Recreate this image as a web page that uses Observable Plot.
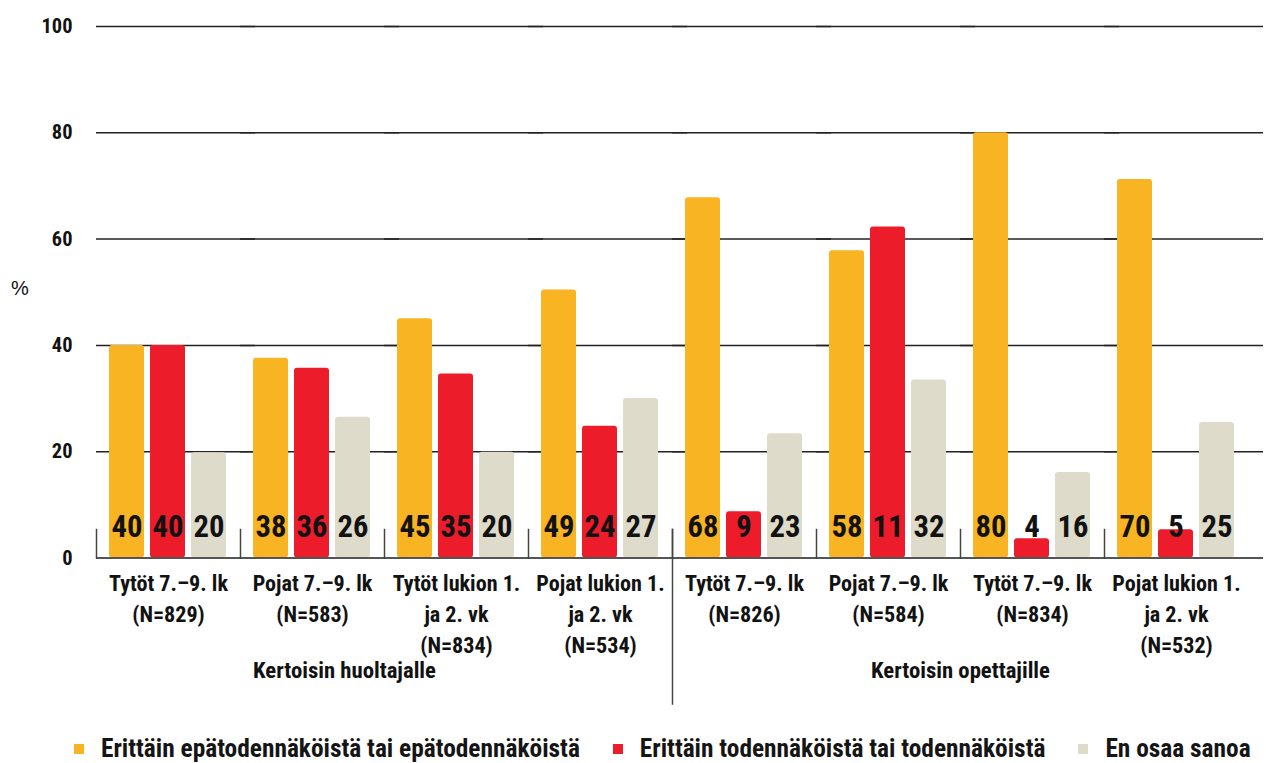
<!DOCTYPE html>
<html><head><meta charset="utf-8">
<script src="https://cdn.jsdelivr.net/npm/d3@7"></script>
<script src="https://cdn.jsdelivr.net/npm/@observablehq/plot@0.6"></script>
<style>
body{margin:0;background:#fff;width:1266px;height:763px;overflow:hidden;position:relative;}
#chart{position:absolute;left:0;top:0}
#pct{position:absolute;left:11px;top:277px;font:20px "Liberation Sans",sans-serif;color:#111}
#legend{position:absolute;left:74px;top:736px;display:flex;align-items:center;font-weight:bold;line-height:25px;color:#151515;white-space:nowrap}
.sw{width:10px;height:10px;margin-right:17px;display:inline-block}
.it{display:flex;align-items:center;margin-right:33px}
</style></head><body>
<div id="chart"></div><div id="pct">%</div><div id="legend"></div>
<script>
// ---- data ----
const categories = [
  "Tytöt 7.–9. lk\n(N=829)",
  "Pojat 7.–9. lk\n(N=583)",
  "Tytöt lukion 1.\nja 2. vk\n(N=834)",
  "Pojat lukion 1.\nja 2. vk\n(N=534)",
  "Tytöt 7.–9. lk\n(N=826)",
  "Pojat 7.–9. lk\n(N=584)",
  "Tytöt 7.–9. lk\n(N=834)",
  "Pojat lukion 1.\nja 2. vk\n(N=532)"
];
const sectionLabels = ["Kertoisin huoltajalle", "Kertoisin opettajille"];
const series = [
  "Erittäin epätodennäköistä tai epätodennäköistä",
  "Erittäin todennäköistä tai todennäköistä",
  "En osaa sanoa"
];
const colors = ["#F9B424", "#EC1C2B", "#DEDBCA"];
// bar heights as drawn
const unlikely = [40, 37.6, 45, 50.4, 67.8, 57.8, 80, 71.2];
const likely   = [40, 35.7, 34.6, 24.8, 8.7, 62.3, 3.6, 5.3];
const dontKnow = [19.8, 26.5, 19.9, 30, 23.4, 33.5, 16.1, 25.5];
// printed value labels
const unlikelyLabels = [40, 38, 45, 49, 68, 58, 80, 70];
const likelyLabels   = [40, 36, 35, 24, 9, 11, 4, 5];
const dontKnowLabels = [20, 26, 20, 27, 23, 32, 16, 25];
const yTicks = [0, 20, 40, 60, 80, 100];

// ---- build tidy rows ----
const valueSets = [unlikely, likely, dontKnow];
const labelSets = [unlikelyLabels, likelyLabels, dontKnowLabels];
const rows = [];
categories.forEach((c, i) => {
  series.forEach((s, j) => rows.push({category: c, series: s, value: valueSets[j][i], label: labelSets[j][i]}));
});

// ---- font selection & sizing (fit reference text widths) ----
const ctx = document.createElement("canvas").getContext("2d");
function available(f) {
  const probe = "Tytöt lukion 1234 WWii";
  ctx.font = "bold 40px monospace"; const a = ctx.measureText(probe).width;
  ctx.font = `bold 40px "${f}", monospace`; const b = ctx.measureText(probe).width;
  return Math.abs(a - b) > 0.5;
}
const family = ["Roboto Condensed", "Liberation Sans Narrow", "Arial Narrow", "DejaVu Sans Condensed", "Roboto"].find(available) || "sans-serif";
function fit(str, target) {
  ctx.font = `bold 100px "${family}"`;
  return 100 * target / ctx.measureText(str).width;
}
const font = `"${family}", sans-serif`;
const ink = "#121212";
const tickSize = fit("100", 31);
const barSize = fit("40", 31);
const catSize = fit("Tytöt 7.–9. lk", 119);
const groupSize = fit("Kertoisin huoltajalle", 183);
const legendSize = fit(series[0], 479);

const plot = Plot.plot({
  width: 1266, height: 725,
  marginLeft: 93, marginRight: 0, marginTop: 26, marginBottom: 167.5,
  style: {fontFamily: font, background: "white", overflow: "visible"},
  fx: {domain: categories, range: [93, 1251], padding: 0, axis: null},
  x: {domain: series, paddingInner: 0.137, paddingOuter: 0.305, axis: null},
  y: {domain: [0, 100]},
  color: {domain: series, range: colors},
  marks: [
    Plot.ruleY(yTicks.filter(d => d > 0), {stroke: "#222", strokeWidth: 1.5, insetRight: -15}),
    Plot.axisY(yTicks, {anchor: "left", tickSize: 0, tickPadding: 24, fontSize: tickSize, fontWeight: "bold", fill: ink, label: null}),
    Plot.barY(rows, {fx: "category", x: "series", y: "value", fill: "series", rx: 3}),
    Plot.ruleY([0], {stroke: "#555", strokeWidth: 2, insetRight: -15}),
    Plot.text(rows, {fx: "category", x: "series", y: 0, text: "label", dy: -31, fontSize: barSize, fontWeight: "bold", fill: ink}),
    Plot.frame({anchor: "left", insetTop: 503, stroke: "#444", strokeWidth: 1.5}),
    Plot.frame({anchor: "left", fx: () => categories[4], insetTop: 503, insetBottom: -146, stroke: "#444", strokeWidth: 1.5}),
    Plot.text(categories, {fx: d => d, text: d => d, frameAnchor: "bottom", lineAnchor: "top", dy: 11.5, lineHeight: 30.8 / catSize, fontSize: catSize, fontWeight: "bold", fill: ink}),
    Plot.text([sectionLabels[0]], {fx: () => categories[1], text: d => d, frameAnchor: "bottom-right", textAnchor: "middle", lineAnchor: "middle", dx: -40, dy: 112.5, fontSize: groupSize, fontWeight: "bold", fill: ink}),
    Plot.text([sectionLabels[1]], {fx: () => categories[5], text: d => d, frameAnchor: "bottom-right", textAnchor: "middle", lineAnchor: "middle", dx: 0, dy: 112.5, fontSize: groupSize, fontWeight: "bold", fill: ink})
  ]
});
document.getElementById("chart").appendChild(plot);

// ---- legend ----
const legend = document.getElementById("legend");
legend.style.fontFamily = font;
legend.style.fontSize = legendSize + "px";
series.forEach((s, j) => {
  const it = document.createElement("div");
  it.className = "it";
  const sw = document.createElement("span");
  sw.className = "sw";
  sw.style.background = colors[j];
  const t = document.createElement("span");
  t.textContent = s;
  it.appendChild(sw); it.appendChild(t);
  legend.appendChild(it);
});
</script>
</body></html>
